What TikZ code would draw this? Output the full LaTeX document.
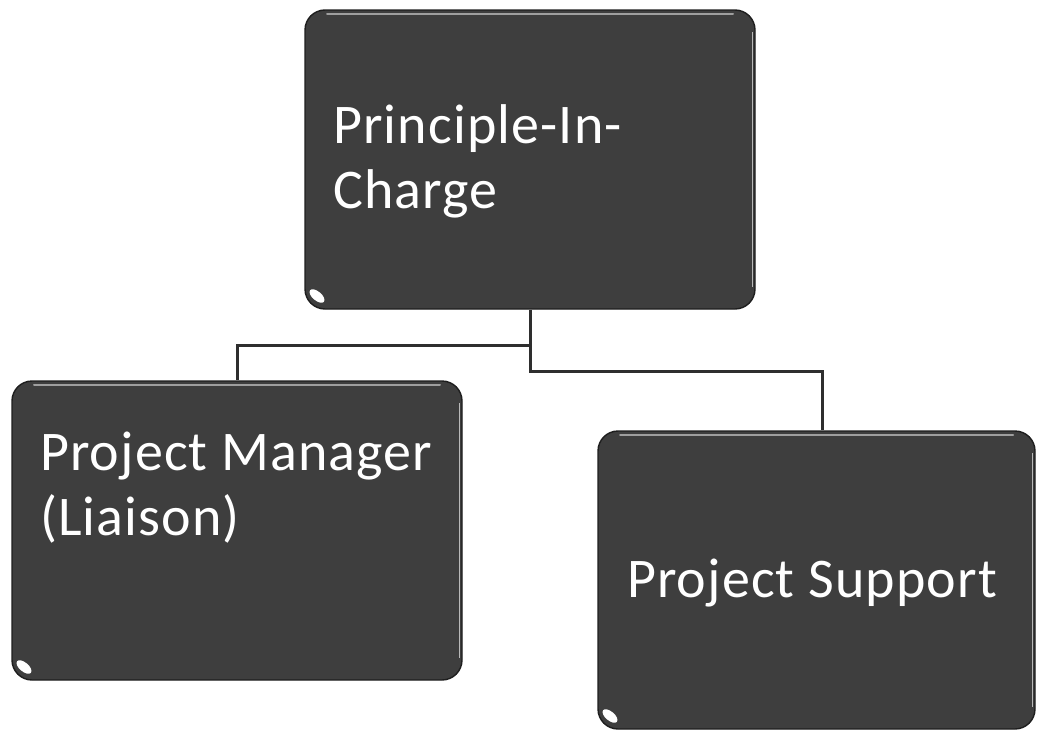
\documentclass[tikz,border=0pt]{standalone}
\usepackage{fontspec}
\setmainfont{Carlito}[LetterSpace=2]
\definecolor{boxfill}{HTML}{3E3E3E}
\definecolor{boxrim}{HTML}{1E1E1E}
\definecolor{wire}{HTML}{2E2E2E}
\begin{document}
\begin{tikzpicture}[x=1pt,y=-1pt,
  orgbox/.style={draw=boxrim, line width=1.4pt, fill=boxfill, rounded corners=20pt,
    inner sep=0pt, minimum width=#1},
  label/.style={text=white, anchor=base west, inner sep=0pt,
    font=\fontsize{56}{65}\selectfont, align=left},
  wireline/.style={draw=wire, line width=3pt}]
\useasboundingbox (0,0) rectangle (1037,731);

% the three boxes, each given by its corners
\newcommand{\orgbox}[5]{%
  \node[orgbox=#4-#2, minimum height=#5-#3] (#1) at ({(#2+#4)/2},{(#3+#5)/2}) {};
  \draw[gray!75, line width=2pt, line cap=round] (#2+22,#3+4) -- (#4-22,#3+4);
  \draw[gray!55, line width=0.8pt] (#4-3,#3+22) -- (#4-3,#5-22);
  \fill[white] (#2+12,#5-13) ellipse[x radius=9, y radius=4.5, rotate=-40];
}
\orgbox{pic}{305}{10}{755}{309}
\orgbox{pm}{12}{381}{462}{680}
\orgbox{ps}{598}{431}{1035}{729}

% texts (anchored at the baseline of their last line)
\node[label] (picText) at (333,208) {Principle-In-\\Charge};
\node[label] (pmText) at (40,535) {Project Manager\\(Liaison)};
\node[label] (psText) at (627,597) {Project Support};

% connectors
\coordinate (j1) at (pic.south |- 0,345);
\coordinate (j2) at (pic.south |- 0,371);
\coordinate (psTop) at ([xshift=6pt]ps.north);
\draw[wireline] (pic.south) -- (j2) -| (psTop);
\draw[wireline] (j1) -| (pm.north);
\end{tikzpicture}
\end{document}
